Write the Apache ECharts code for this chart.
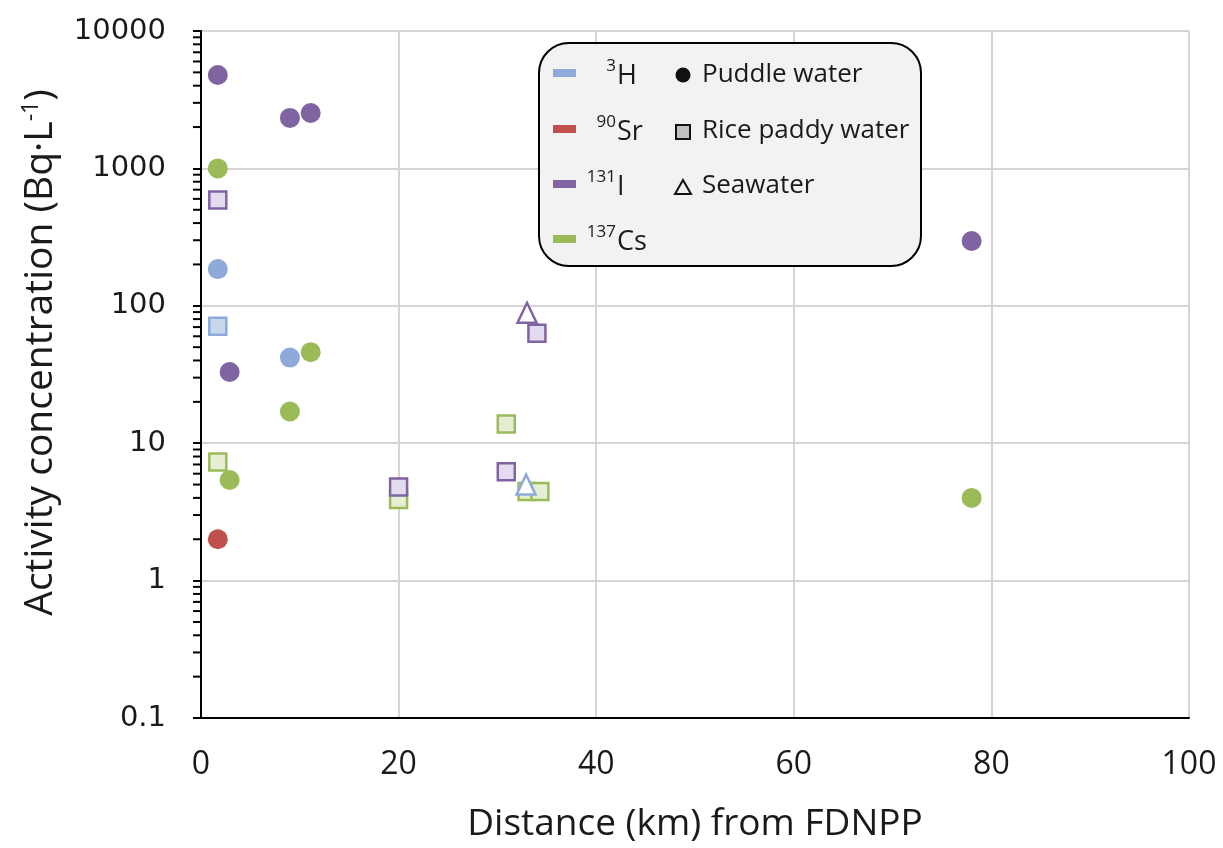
<!DOCTYPE html>
<html>
<head>
<meta charset="utf-8">
<script src="https://cdn.jsdelivr.net/npm/echarts@6/dist/echarts.min.js"></script>
<style>html,body{margin:0;padding:0;background:#fff;}#c{width:1223px;height:848px;}</style>
</head>
<body>
<div id="c"></div>
<script>
// ---- data ----
var xTicks = [0, 20, 40, 60, 80, 100];
var yTickLabels = ['0.1', '1', '10', '100', '1000', '10000'];
var decades = [0.1, 1, 10, 100, 1000];
var minorMultipliers = [2, 3, 4, 5, 6, 7, 8, 9];

var H3_puddle = [[1.7, 185], [9.0, 42]];
var H3_paddy = [[1.7, 71]];
var H3_sea = [[32.9, 5.0]];
var Sr90_puddle = [[1.7, 2.0]];
var I131_puddle = [[1.7, 4780], [9.0, 2330], [11.1, 2530], [2.9, 33], [78.0, 296]];
var I131_paddy = [[1.7, 590], [20.0, 4.8], [30.9, 6.2], [34.0, 63]];
var I131_sea = [[33.0, 89]];
var Cs137_puddle = [[1.7, 1000], [11.1, 46], [9.0, 17], [2.9, 5.4], [78.0, 4.0]];
var Cs137_paddy = [[1.7, 7.3], [20.0, 3.9], [30.9, 13.8], [33.0, 4.45], [34.3, 4.45]];

var C = {
  H: '#8eaadb', Hf: '#c9d7ee',
  Sr: '#c0504d',
  I: '#8064a2', If: '#e3dbee',
  Cs: '#9bbb59', Csf: '#e6efd5'
};

var minorTicks = [];
decades.forEach(function (d) { minorMultipliers.forEach(function (m) { minorTicks.push([0, +(d * m).toPrecision(3)]); }); });

function circle(data, color) {
  return { type: 'scatter', data: data, symbol: 'circle', symbolSize: 20, itemStyle: { color: color, opacity: 1 }, z: 5 };
}
function square(data, color, fill) {
  return { type: 'scatter', data: data, symbol: 'rect', symbolSize: 17, itemStyle: { color: fill, borderColor: color, borderWidth: 2.5, opacity: 1 }, z: 5 };
}
function tri(data, color) {
  return { type: 'scatter', data: data, symbol: 'triangle', symbolSize: [19, 20], itemStyle: { color: '#ffffff', borderColor: color, borderWidth: 2.5, opacity: 1 }, z: 5 };
}

var chart = echarts.init(document.getElementById('c'), null, { renderer: 'canvas' });

var legendTexts = [];
var isoLabels = [
  { sup: '3', main: 'H', y: 73, color: C.H },
  { sup: '90', main: 'Sr', y: 129, color: C.Sr },
  { sup: '131', main: 'I', y: 184, color: C.I },
  { sup: '137', main: 'Cs', y: 239, color: C.Cs }
];
isoLabels.forEach(function (o) {
  legendTexts.push({ type: 'rect', shape: { x: 553, y: o.y - 4, width: 23, height: 8 }, style: { fill: o.color }, z: 100 });
  legendTexts.push({ type: 'text', x: 616, y: o.y - 7, style: { text: o.sup, font: '17px "Open Sans"', fill: '#1a1a1a', align: 'right', verticalAlign: 'middle' }, z: 100 });
  legendTexts.push({ type: 'text', x: 617, y: o.y + 3, style: { text: o.main, font: '27px "Open Sans"', fill: '#1a1a1a', align: 'left', verticalAlign: 'middle' }, z: 100 });
});
var typeLabels = [
  { text: 'Puddle water', y: 75 },
  { text: 'Rice paddy water', y: 131 },
  { text: 'Seawater', y: 186 }
];
typeLabels.forEach(function (o) {
  legendTexts.push({ type: 'text', x: 702, y: o.y, style: { text: o.text, font: '26px "Open Sans"', fill: '#1a1a1a', align: 'left', verticalAlign: 'middle' }, z: 100 });
});

chart.setOption({
  animation: false,
  backgroundColor: '#ffffff',
  grid: { left: 201, right: 34, top: 31, bottom: 130, containLabel: false },
  xAxis: {
    type: 'value', min: 0, max: 100, interval: 20,
    axisLine: { show: true, onZero: false, lineStyle: { color: '#000', width: 2 } },
    axisTick: { show: false },
    splitLine: { show: true, lineStyle: { color: '#d9d3d3', width: 2 } },
    axisLabel: { fontFamily: 'Open Sans', fontSize: 32, color: '#1a1a1a', margin: 31,
      formatter: function (v) { return xTicks.indexOf(v) >= 0 ? String(v) : ''; } },
    name: 'Distance (km) from FDNPP', nameLocation: 'middle', nameGap: 88,
    nameTextStyle: { fontFamily: 'Open Sans', fontSize: 37, color: '#1a1a1a' }
  },
  yAxis: {
    type: 'log', logBase: 10, min: 0.1, max: 10000,
    axisLine: { show: true, onZero: false, lineStyle: { color: '#000', width: 2 } },
    axisTick: { show: true, length: 8, lineStyle: { color: '#000', width: 2 } },
    splitLine: { show: true, lineStyle: { color: '#d9d3d3', width: 2 } },
    axisLabel: { fontFamily: 'DejaVu Sans', fontSize: 29, color: '#1a1a1a', margin: 35,
      formatter: function (v) {
        var s = String(+v.toPrecision(3));
        return yTickLabels.indexOf(s) >= 0 ? s : '';
      } },
    name: '{a|Activity concentration (Bq·L}{s|-1}{a|)}', nameLocation: 'middle', nameGap: 140,
    nameTextStyle: {
      padding: [0, 0, 0, 44],
      rich: {
        a: { fontFamily: 'Open Sans', fontSize: 39, color: '#1a1a1a' },
        s: { fontFamily: 'Open Sans', fontSize: 23, color: '#1a1a1a', padding: [0, 0, 18, 0] }
      }
    }
  },
  graphic: [
    { type: 'rect', shape: { x: 539, y: 43, width: 382, height: 223, r: 30 }, style: { fill: '#f2f2f2', stroke: '#000', lineWidth: 2 }, z: 99 },
    { type: 'circle', shape: { cx: 683, cy: 75, r: 7.5 }, style: { fill: '#111' }, z: 100 },
    { type: 'rect', shape: { x: 676, y: 125, width: 14, height: 14 }, style: { fill: '#bfbfbf', stroke: '#111', lineWidth: 2 }, z: 100 },
    { type: 'polygon', shape: { points: [[683, 180], [675, 194], [691, 194]] }, style: { fill: 'none', stroke: '#111', lineWidth: 2 }, z: 100 }
  ].concat(legendTexts),
  series: [
    {
      type: 'custom', coordinateSystem: 'cartesian2d', clip: false, silent: true, z: 6,
      data: minorTicks,
      renderItem: function (params, api) {
        var p = api.coord([0, api.value(1)]);
        return { type: 'line', shape: { x1: p[0] - 8, y1: p[1], x2: p[0], y2: p[1] }, style: { stroke: '#000', lineWidth: 2 } };
      }
    },
    square(Cs137_paddy, C.Cs, C.Csf),
    circle(Cs137_puddle, C.Cs),
    circle(Sr90_puddle, C.Sr),
    circle(I131_puddle, C.I),
    square(I131_paddy, C.I, C.If),
    tri(I131_sea, C.I),
    circle(H3_puddle, C.H),
    square(H3_paddy, C.H, C.Hf),
    tri(H3_sea, C.H)
  ]
});
</script>
</body>
</html>
